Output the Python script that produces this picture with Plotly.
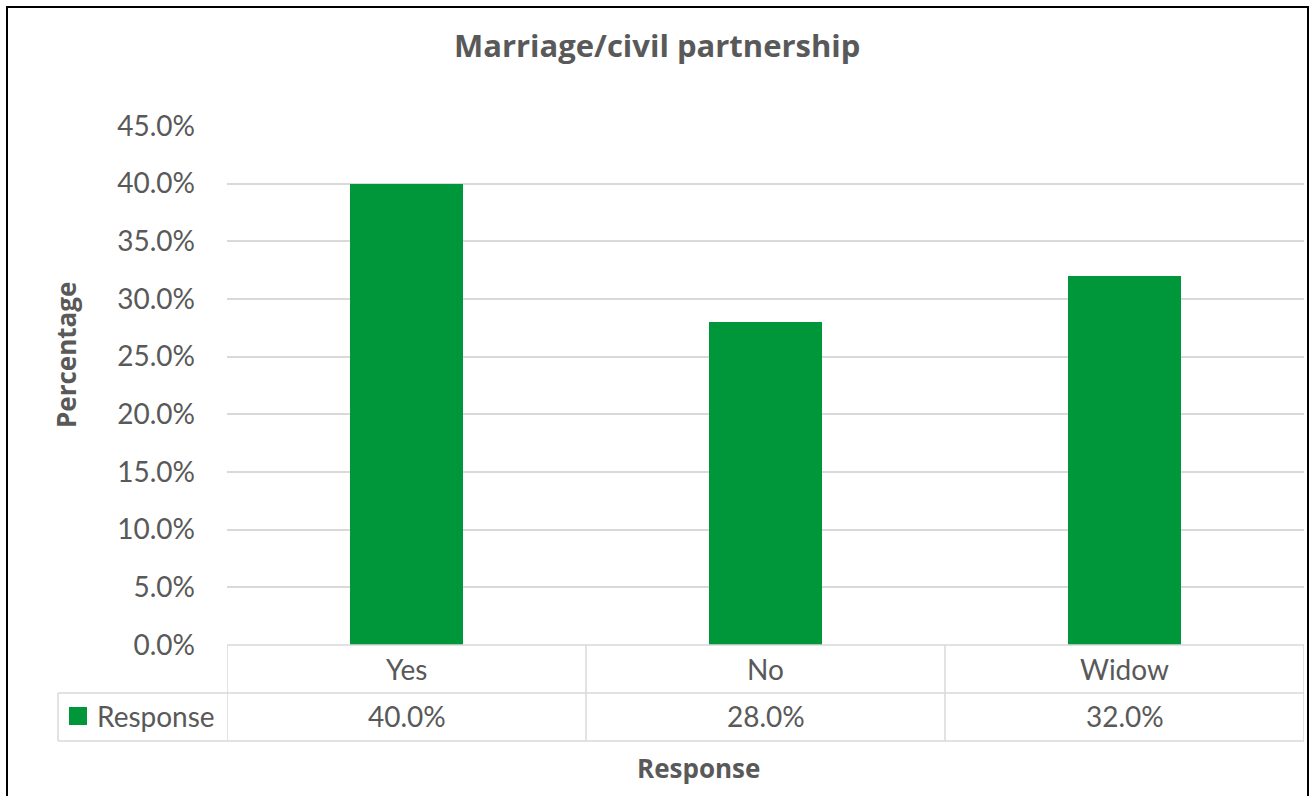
import plotly.graph_objects as go

categories = ["Yes", "No", "Widow"]
values = [0.40, 0.28, 0.32]
series_name = "Response"
title_text = "Marriage/civil partnership"
y_title = "Percentage"
x_title = "Response"
tick_vals = [0, 0.05, 0.10, 0.15, 0.20, 0.25, 0.30, 0.35, 0.40, 0.45]

W, H = 1311, 796
L, R, T, B = 227, 7, 126, 151
pw, ph = W - L - R, H - T - B

def px_x(p):
    return (p - L) / pw

def px_y(p):
    return (H - B - p) / ph

GREEN = "#00973A"
GRID = "#D9D9D9"
TXT = "#595959"
FONT = "Lato, Calibri, sans-serif"
BFONT = "'Open Sans', Calibri, sans-serif"
FS = 28

fig = go.Figure()
fig.add_trace(go.Bar(x=categories, y=values, name=series_name,
                     marker=dict(color=GREEN, line=dict(width=0)),
                     width=0.315, hoverinfo="skip"))

shapes = []
row1 = px_y(693)
row2 = px_y(741)
line = dict(color=GRID, width=1.5)
shapes.append(dict(type="line", xref="x", yref="paper", x0=-0.5, x1=2.5, y0=0, y1=0, line=line))
shapes.append(dict(type="line", xref="paper", yref="paper", x0=px_x(58), x1=1, y0=row1, y1=row1, line=line))
shapes.append(dict(type="line", xref="paper", yref="paper", x0=px_x(58), x1=1, y0=row2, y1=row2, line=line))
for i in range(len(categories) + 1):
    shapes.append(dict(type="line", xref="x", yref="paper", x0=i - 0.5, x1=i - 0.5,
                       y0=0, y1=row2, line=line))
shapes.append(dict(type="line", xref="paper", yref="paper", x0=px_x(58), x1=px_x(58),
                   y0=row1, y1=row2, line=line))
shapes.append(dict(type="rect", xref="paper", yref="paper", x0=px_x(69), x1=px_x(87),
                   y0=px_y(725), y1=px_y(707), fillcolor=GREEN, line=dict(width=0)))
shapes.append(dict(type="rect", xref="paper", yref="paper", x0=px_x(7), x1=px_x(1308),
                   y0=px_y(805), y1=px_y(7), line=dict(color="black", width=2),
                   fillcolor="rgba(0,0,0,0)", layer="above"))

def ann(x, y, text, xref="paper", size=FS, family=FONT, xanchor="center", **kw):
    return dict(x=x, y=y, xref=xref, yref="paper", text=text, showarrow=False,
                xanchor=xanchor, yanchor="middle",
                font=dict(size=size, color=TXT, family=family), **kw)

annotations = []
for i, (c, v) in enumerate(zip(categories, values)):
    annotations.append(ann(i, px_y(669), c, xref="x"))
    annotations.append(ann(i, px_y(716), f"{v*100:.1f}%", xref="x"))
annotations.append(ann(px_x(95), px_y(716), series_name, xanchor="left"))
annotations.append(ann(px_x(698), px_y(768), f"<b>{x_title}</b>", size=26, family=BFONT))
annotations.append(ann(px_x(66), px_y(355), f"<b>{y_title}</b>", size=26, family=BFONT, textangle=-90))
annotations.append(ann(px_x(657), px_y(45), f"<b>{title_text}</b>", size=31, family=BFONT))

fig.update_layout(
    width=W, height=H,
    margin=dict(l=L, r=R, t=T, b=B, pad=0),
    paper_bgcolor="white", plot_bgcolor="white",
    showlegend=False,
    shapes=shapes, annotations=annotations,
    bargap=0,
    xaxis=dict(range=[-0.5, 2.5], showticklabels=False, showgrid=False, zeroline=False,
               showline=False, fixedrange=True),
    yaxis=dict(range=[0, 0.45], tickvals=tick_vals, tickformat=".1%",
               showgrid=True, gridcolor=GRID, gridwidth=1.5, zeroline=False, showline=False,
               ticks="", ticklabelstandoff=31,
               tickfont=dict(size=FS, color=TXT, family=FONT), fixedrange=True),
)

fig.write_html("out.html")
